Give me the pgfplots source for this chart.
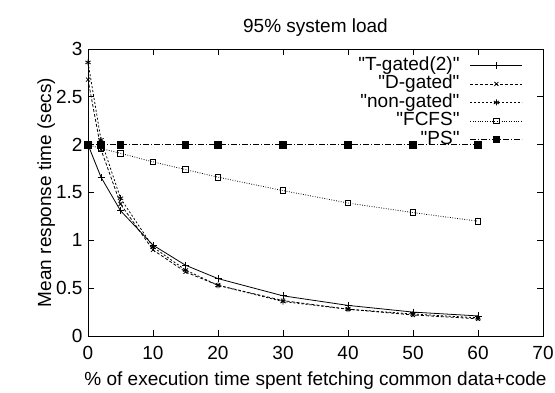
\documentclass[border=0pt]{standalone}
\usepackage{pgfplots}
\pgfplotsset{compat=1.18}
\usepackage{fontspec}
\setmainfont{Liberation Sans}[Ligatures=TeXOff]
\newcommand\q{"}
\begin{document}
\begin{tikzpicture}[font=\fontsize{19}{21}\selectfont]
\begin{axis}[
  name=ax,
  scale only axis,
  width=455pt, height=287pt,
  xmin=0, xmax=70, ymin=0, ymax=3,
  xtick={0,10,...,70},
  ytick={0,0.5,...,3},
  tick align=inside,
  major tick length=6pt,
  axis line style={line width=0.8pt},
  every tick/.style={line width=0.8pt},
  /pgf/number format/assume math mode=true,
  ticklabel style={font=\fontsize{19}{21}\selectfont},
  xticklabel style={yshift=-7pt},
  yticklabel style={xshift=-2pt},
  title={95\% system load},
  title style={yshift=3pt},
  xlabel={\% of execution time spent fetching common data+code},
  xlabel style={yshift=-5pt},
  ylabel={Mean response time (secs)},
  ylabel style={yshift=-6pt},
  legend plot pos=right,
  legend cell align=right,
  legend style={draw=none, fill=none, at={(rel axis cs:1,1)}, anchor=north east,
    xshift=-20pt, yshift=-7pt, inner sep=0pt, row sep=0pt, column sep=10pt,
    font=\fontsize{19}{19}\selectfont,
    nodes={inner sep=0.5pt, text height=13.5pt, text depth=4pt}},
  legend image code/.code={\draw[mark repeat=2,mark phase=2,#1] plot coordinates {(0pt,0pt)(26pt,0pt)(52pt,0pt)};},
  every axis plot/.append style={line width=0.8pt, black},
]
\addplot[solid, mark=+, mark size=3.5pt, mark options={solid}] coordinates {
(0,2.0)(2,1.66)(5,1.31)(10,0.95)(15,0.74)(20,0.60)(30,0.42)(40,0.32)(50,0.25)(60,0.21)};
\addlegendentry{\q T-gated(2)\q}
\addplot[dash pattern=on 3pt off 2pt, mark=x, mark size=2.8pt, mark options={solid}] coordinates {
(0,2.68)(2,1.95)(5,1.38)(10,0.90)(15,0.67)(20,0.53)(30,0.37)(40,0.28)(50,0.22)(60,0.18)};
\addlegendentry{\q D-gated\q}
\addplot[dash pattern=on 2pt off 2pt, mark=asterisk, mark size=3pt, mark options={solid}] coordinates {
(0,2.86)(2,2.05)(5,1.44)(10,0.93)(15,0.69)(20,0.53)(30,0.36)(40,0.28)(50,0.23)(60,0.19)};
\addlegendentry{\q non-gated\q}
\addplot[dash pattern=on 0.8pt off 1.6pt, mark=square, mark size=2.8pt, mark options={solid}] coordinates {
(0,2.0)(2,1.96)(5,1.91)(10,1.82)(15,1.74)(20,1.66)(30,1.52)(40,1.39)(50,1.29)(60,1.20)};
\addlegendentry{\q FCFS\q}
\addplot[dash pattern=on 6pt off 2pt on 1pt off 2pt, mark=square*, mark size=3.3pt, mark options={solid}] coordinates {
(0,2)(2,2)(5,2)(15,2)(20,2)(30,2)(40,2)(50,2)(60,2)};
\addlegendentry{\q PS\q}
\end{axis}
\pgfresetboundingbox
\path[use as bounding box] ([xshift=-88pt,yshift=-56pt]ax.south west) rectangle ([xshift=12pt,yshift=49pt]ax.north east);
\end{tikzpicture}
\end{document}
